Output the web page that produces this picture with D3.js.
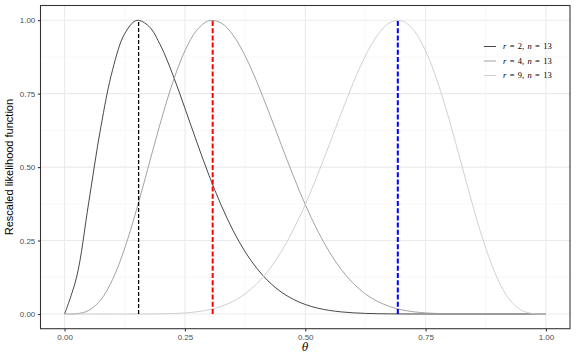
<!DOCTYPE html>
<html><head><meta charset="utf-8">
<script src="https://cdn.jsdelivr.net/npm/d3@7"></script>
<style>body{margin:0;background:#fff}svg{display:block}</style>
</head><body><svg id="c" width="576" height="360"></svg>
<script>
const theta = [0,0.025,0.05,0.075,0.1,0.125,0.15,0.175,0.2,0.225,0.25,0.275,0.3,0.325,0.35,0.375,0.4,0.425,0.45,0.475,0.5,0.525,0.55,0.575,0.6,0.625,0.65,0.675,0.7,0.725,0.75,0.775,0.8,0.825,0.85,0.875,0.9,0.925,0.95,0.975,1];
const lik_r2 = [0,0.1256,0.3774,0.6332,0.8328,0.9545,0.9993,0.9794,0.9119,0.8139,0.7005,0.5838,0.4723,0.3715,0.2845,0.2121,0.1541,0.1089,0.0749,0.0500,0.0324,0.0203,0.0123,0.0072,0.0040,0.0021,0.0011,0.0005,0.0002,0.0001,0,0,0,0,0,0,0,0,0,0,0];
const lik_r4 = [0,0.00095,0.0120,0.0479,0.1183,0.2242,0.3581,0.5071,0.6558,0.7894,0.8957,0.9665,0.9982,0.9911,0.9491,0.8788,0.7878,0.6846,0.5767,0.4710,0.3728,0.2856,0.2115,0.1510,0.1038,0.0683,0.0430,0.0257,0.0144,0.0076,0.0037,0.0016,0.0006,0.0002,0.0001,0,0,0,0,0,0];
const lik_r9 = [0,0,0,0,0,0,0.0001,0.0002,0.0006,0.0016,0.0037,0.0076,0.0144,0.0257,0.0430,0.0683,0.1038,0.1510,0.2115,0.2856,0.3728,0.4710,0.5767,0.6846,0.7878,0.8788,0.9491,0.9911,0.9982,0.9665,0.8957,0.7894,0.6558,0.5071,0.3581,0.2242,0.1183,0.0479,0.0120,0.00095,0];
const seriesR = [2,4,9];
const seriesN = [13,13,13];
const mle = [0.1538,0.3077,0.6923];
const xTicks = [0,0.25,0.5,0.75,1];
const yTicks = [0,0.25,0.5,0.75,1];
const lineColors = ["#333333","#999999","#cccccc"];
const vColors = ["#000000","#ff0000","#0000ff"];

const svg = d3.select("#c");
const P = {l:40.5, r:570, t:5.5, b:328.7};
const x = d3.scaleLinear().domain([-0.05,1.05]).range([P.l,P.r]);
const y = d3.scaleLinear().domain([-0.05,1.05]).range([P.b,P.t]);

const g = svg.append("g");
const xMinor = [0.125,0.375,0.625,0.875];
const yMinor = [0.125,0.375,0.625,0.875];
g.selectAll(".xm").data(xMinor).enter().append("line")
  .attr("x1",d=>x(d)).attr("x2",d=>x(d)).attr("y1",P.t).attr("y2",P.b)
  .attr("stroke","#f2f2f2").attr("stroke-width",0.55);
g.selectAll(".ym").data(yMinor).enter().append("line")
  .attr("y1",d=>y(d)).attr("y2",d=>y(d)).attr("x1",P.l).attr("x2",P.r)
  .attr("stroke","#f2f2f2").attr("stroke-width",0.55);
g.selectAll(".xg").data(xTicks).enter().append("line")
  .attr("x1",d=>x(d)).attr("x2",d=>x(d)).attr("y1",P.t).attr("y2",P.b)
  .attr("stroke","#ebebeb").attr("stroke-width",1.07);
g.selectAll(".yg").data(yTicks).enter().append("line")
  .attr("y1",d=>y(d)).attr("y2",d=>y(d)).attr("x1",P.l).attr("x2",P.r)
  .attr("stroke","#ebebeb").attr("stroke-width",1.07);

const allSeries = [lik_r2, lik_r4, lik_r9];
const line = d3.line().x((d,i)=>x(theta[i])).y(d=>y(d)).curve(d3.curveCatmullRom.alpha(0.5));
allSeries.forEach((s,k)=>{
  g.append("path").datum(s).attr("d",line).attr("fill","none")
   .attr("stroke",lineColors[k]).attr("stroke-width",0.9);
});
mle.forEach((m,k)=>{
  g.append("line").attr("x1",x(m)).attr("x2",x(m)).attr("y1",y(0)).attr("y2",y(1))
   .attr("stroke",vColors[k]).attr("stroke-width",k===0?1.3:2)
   .attr("stroke-dasharray",k===0?"4,2":"5,2.2");
});
g.append("rect").attr("x",P.l).attr("y",P.t).attr("width",P.r-P.l).attr("height",P.b-P.t)
 .attr("fill","none").attr("stroke","#333333").attr("stroke-width",1.07);

const xa = svg.append("g").attr("transform",`translate(0,${P.b})`)
  .call(d3.axisBottom(x).tickValues(xTicks).tickFormat(d3.format(".2f")).tickSize(2.7).tickPadding(2.5));
const ya = svg.append("g").attr("transform",`translate(${P.l},0)`)
  .call(d3.axisLeft(y).tickValues(yTicks).tickFormat(d3.format(".2f")).tickSize(2.7).tickPadding(2.5));
[xa,ya].forEach(a=>{
  a.select(".domain").remove();
  a.selectAll(".tick line").attr("stroke","#333333").attr("stroke-width",1.07);
  a.selectAll(".tick text").attr("fill","#4d4d4d").style("font-family","Liberation Sans, Arial, sans-serif").style("font-size","8px");
});

svg.append("text").attr("transform",`translate(13,${(P.t+P.b)/2}) rotate(-90)`)
  .attr("text-anchor","middle").style("font-family","Liberation Sans, Arial, sans-serif")
  .style("font-size","11px").attr("fill","#000").text("Rescaled likelihood function");
svg.append("text").attr("x",(P.l+P.r)/2).attr("y",351).attr("text-anchor","middle")
  .style("font-family","DejaVu Serif, serif").style("font-style","italic")
  .style("font-size","10.5px").text("θ");

const lg = svg.append("g");
seriesR.forEach((r,k)=>{
  const yy = 46.5 + k*14.5;
  lg.append("line").attr("x1",484).attr("x2",496).attr("y1",yy).attr("y2",yy)
    .attr("stroke",lineColors[k]).attr("stroke-width",0.9);
  const t = lg.append("text").attr("x",503).attr("y",yy+2.8)
    .style("font-family","Liberation Serif, serif").style("font-size","8.5px")
    .style("word-spacing","1.2px").attr("fill","#000");
  t.append("tspan").style("font-style","italic").text("r");
  t.append("tspan").text(" = " + r + ", ");
  t.append("tspan").style("font-style","italic").text("n");
  t.append("tspan").text(" = " + seriesN[k]);
});
</script></body></html>
